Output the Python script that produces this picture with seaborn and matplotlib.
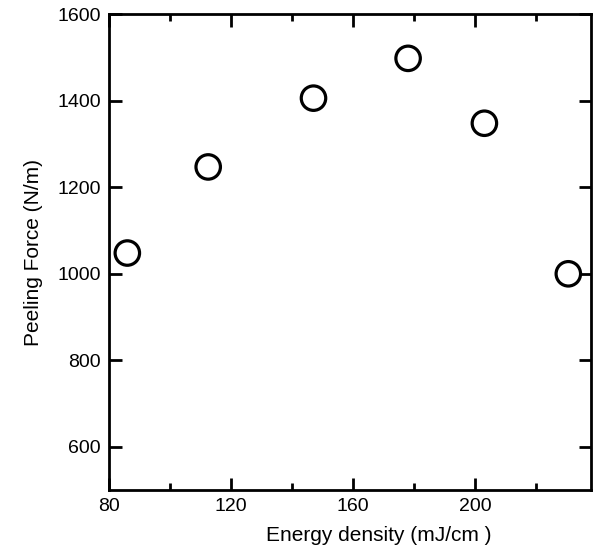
import pandas as pd
import seaborn as sns
import matplotlib.pyplot as plt
from matplotlib.ticker import MultipleLocator

# Data
energy_density = [86, 112.5, 147, 178, 203, 230.5]
peeling_force = [1048, 1247, 1406, 1498, 1348, 1000]

df = pd.DataFrame({'Energy': energy_density, 'Force': peeling_force})

sns.set_style("ticks")
plt.rcParams['font.family'] = ['Liberation Sans', 'DejaVu Sans']

fig = plt.figure(figsize=(5.99, 5.47), dpi=100)
ax = fig.add_axes([0.182, 0.104, 0.805, 0.870])

sns.scatterplot(data=df, x='Energy', y='Force', ax=ax, s=310,
                facecolors='none', edgecolor='black', linewidth=2.3,
                marker='o', zorder=3)

ax.set_xlim(80, 238)
ax.set_ylim(500, 1600)
ax.xaxis.set_major_locator(MultipleLocator(40))
ax.xaxis.set_minor_locator(MultipleLocator(20))
ax.set_yticks([600, 800, 1000, 1200, 1400, 1600])

ax.tick_params(which='both', direction='in', top=True, right=True,
               width=2, labelsize=14, color='black', labelcolor='black',
               pad=6)
ax.tick_params(which='major', length=9)
ax.tick_params(which='minor', length=5)
for sp in ax.spines.values():
    sp.set_linewidth(2)
    sp.set_color('black')

ax.set_xlabel("Energy density (mJ/cm )", fontsize=15, color='black')
ax.xaxis.set_label_coords(0.56, -0.075)
ax.set_ylabel("Peeling Force (N/m)", fontsize=15, color='black', labelpad=10)

plt.savefig('out.png', dpi=100)
